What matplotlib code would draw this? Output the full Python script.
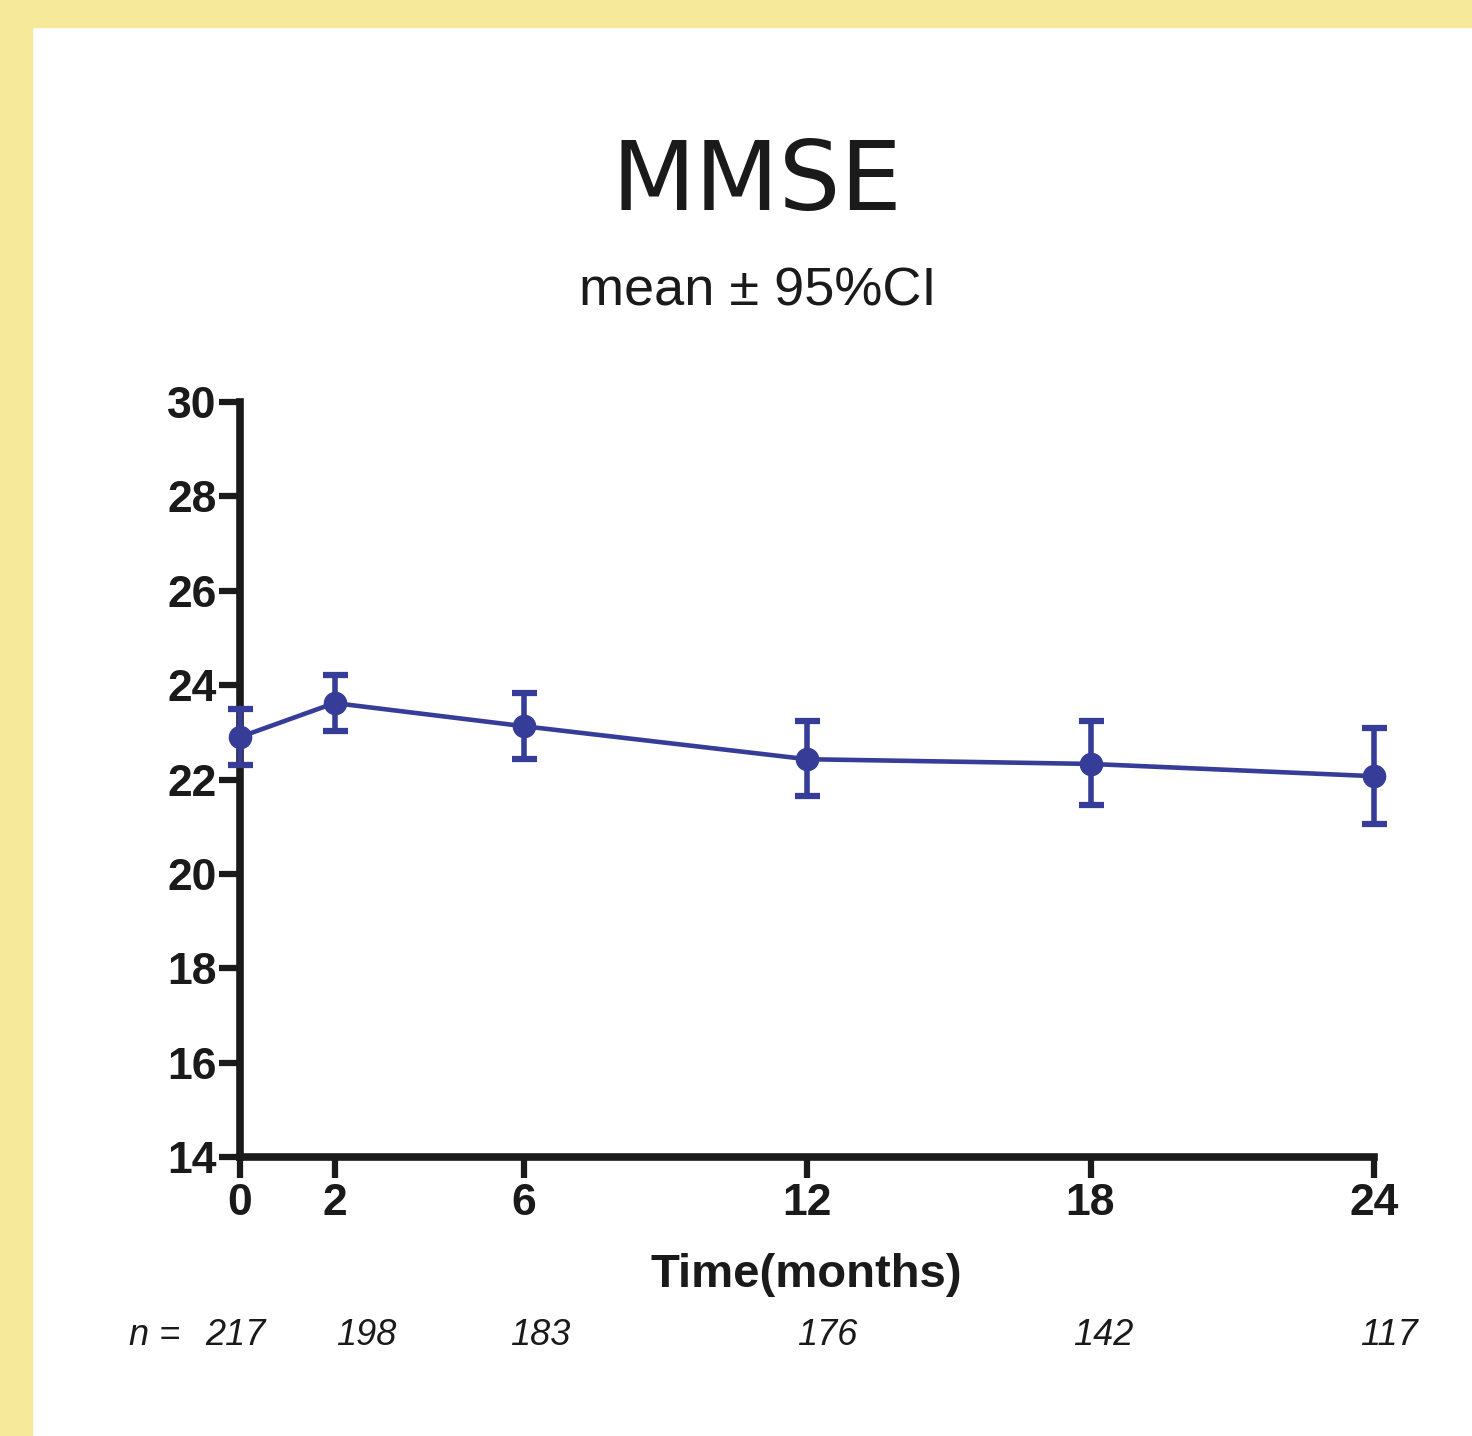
import numpy as np
import matplotlib
matplotlib.use("Agg")
import matplotlib.pyplot as plt

# MMSE over time, mean with 95% CI
months = [0, 2, 6, 12, 18, 24]
mmse_mean = [22.90, 23.62, 23.13, 22.43, 22.33, 22.07]
ci_low = [22.30, 23.03, 22.43, 21.65, 21.46, 21.06]
ci_high = [23.49, 24.21, 23.83, 23.24, 23.24, 23.09]
n_subjects = [217, 198, 183, 176, 142, 117]
y_ticks = [14, 16, 18, 20, 22, 24, 26, 28, 30]

line_color = "#353d99"
bg_yellow = "#f6ea9a"

W, H = 1472, 1436
fig = plt.figure(figsize=(W / 100, H / 100), dpi=100)
fig.patch.set_facecolor("white")

# yellow frame on top and left
fig.patches.append(plt.Rectangle((0, 1 - 27 / H), 1, 27 / H, transform=fig.transFigure,
                                 color=bg_yellow, zorder=0))
fig.patches.append(plt.Rectangle((0, 0), 32 / W, 1, transform=fig.transFigure,
                                 color=bg_yellow, zorder=0))

ax = fig.add_axes([240 / W, 1 - 1157 / H, (1374 - 240) / W, (1157 - 402) / H])
ax.set_facecolor("none")

mean = np.array(mmse_mean)
yerr = [mean - np.array(ci_low), np.array(ci_high) - mean]
ax.errorbar(months, mean, yerr=yerr, color=line_color, lw=3.3, marker="o", ms=16,
            elinewidth=4, capsize=9, capthick=4.5, clip_on=False, zorder=5)

ax.set_xlim(0, 24)
ax.set_ylim(14, 30)
ax.set_xticks(months)
ax.set_yticks(y_ticks)
for s in ["top", "right"]:
    ax.spines[s].set_visible(False)
for s in ["left", "bottom"]:
    ax.spines[s].set_linewidth(5.5)
    ax.spines[s].set_color("#1a1a1a")
    ax.spines[s].set_capstyle("projecting")
ax.tick_params(axis="both", direction="out", length=15, width=4.5, color="#1a1a1a",
               labelsize=32, labelcolor="#1a1a1a")
ax.tick_params(axis="y", pad=2)
ax.tick_params(axis="x", pad=4)
for lab in ax.get_xticklabels() + ax.get_yticklabels():
    lab.set_fontfamily("Liberation Sans")
    lab.set_fontweight("bold")

fig.text(806 / W, 1 - 1287 / H, "Time(months)", ha="center", va="baseline",
         fontsize=34, fontweight="bold", family="Liberation Sans", color="#1a1a1a")

fig.text(757 / W, 1 - 210 / H, "MMSE", ha="center", va="baseline",
         fontsize=70, family="DejaVu Sans", color="#1a1a1a")
fig.text(758 / W, 1 - 305 / H, "mean \u00b1 95%CI", ha="center", va="baseline",
         fontsize=39, family="Liberation Sans", color="#1a1a1a")

# sample sizes under the axis
fig.text(155 / W, 1 - 1345 / H, "n =", ha="center", va="baseline", fontsize=26,
         style="italic", family="Liberation Sans", color="#1a1a1a")
n_offsets = [-0.1, 0.68, 0.36, 0.42, 0.28, 0.32]
for m, n, off in zip(months, n_subjects, n_offsets):
    ax.annotate(str(n), xy=(m + off, 0), xycoords=("data", "figure fraction"),
                xytext=(0, 1 - 1345 / H), textcoords=("offset points", "figure fraction"),
                ha="center", va="baseline", fontsize=26, style="italic",
                family="Liberation Sans", color="#1a1a1a", annotation_clip=False)

fig.savefig("out.png", dpi=100, facecolor=fig.get_facecolor())
